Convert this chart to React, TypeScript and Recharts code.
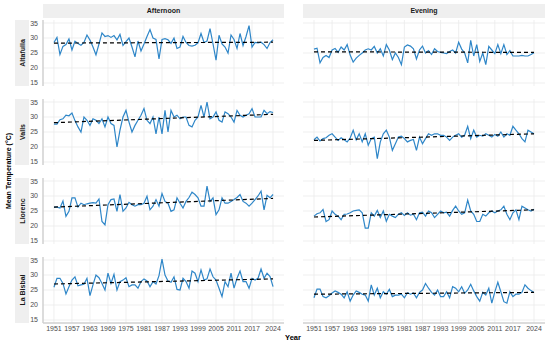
import React from 'react';
import { LineChart, Line, XAxis, YAxis, CartesianGrid } from 'recharts';

const YEARS = Array.from({ length: 74 }, (_, i) => 1951 + i);
const X_TICKS = [1951, 1957, 1963, 1969, 1975, 1981, 1987, 1993, 1999, 2005, 2011, 2017, 2024];
const Y_TICKS = [15, 20, 25, 30, 35];
const STATIONS = ['Altafulla', 'Valls', 'Llorenc', 'La Bisbal'];
const PERIODS = ['Afternoon', 'Evening'];

const altafullaAfternoon = [
  28.5, 30.2, 24.5, 27.2, 27.8, 29.7, 26.0, 28.9, 28.2, 27.6,
  28.5, 31.0, 29.3, 27.0, 24.4, 28.0, 31.7, 30.5, 30.8, 30.2,
  30.8, 29.4, 31.2, 27.5, 28.8, 30.0, 27.0, 23.7, 29.0, 25.7,
  28.0, 30.5, 32.8, 30.0, 29.5, 23.0, 29.5, 29.8, 29.4, 28.2,
  30.0, 26.5, 27.0, 30.5, 28.5, 27.5, 27.3, 27.6, 28.4, 31.5,
  28.5, 29.0, 33.1, 28.0, 22.6, 30.9, 28.0, 27.0, 25.0, 31.0,
  29.5, 26.5, 31.5, 27.5, 30.5, 34.1, 27.0, 28.5, 28.4, 28.6,
  27.8, 26.5, 28.5, 29.4,
];
const altafullaEvening = [
  26.3, 26.6, 21.7, 23.5, 24.2, 23.5, 26.0, 26.5, 25.2, 27.0,
  26.0, 27.8, 24.3, 22.0, 23.3, 24.2, 25.0, 26.0, 26.4, 26.0,
  27.2, 25.0, 26.4, 24.0, 27.8, 26.0, 22.8, 25.0, 23.5, 21.1,
  27.0, 27.7, 27.3, 26.4, 23.0, 26.0, 27.3, 25.0, 25.8, 24.5,
  26.4, 25.5, 25.2, 25.0, 24.8, 25.5, 26.0, 25.0, 28.6, 26.3,
  25.0, 21.7, 29.2, 24.0, 27.8, 22.2, 25.0, 21.1, 27.2, 26.0,
  24.8, 27.8, 24.8, 27.8, 24.5, 25.8, 24.0, 24.0, 24.0, 24.2,
  24.0, 24.0, 24.5, 25.1,
];
const vallsAfternoon = [
  27.6, 27.6, 29.1, 29.4, 30.6, 30.4, 31.3, 28.8, 26.7, 25.0,
  30.0, 28.9, 27.2, 29.4, 28.9, 27.8, 29.4, 26.7, 30.0, 27.8,
  27.2, 20.0, 25.6, 30.0, 32.2, 28.3, 25.0, 27.2, 28.9, 30.6,
  32.8, 28.9, 27.8, 30.0, 24.4, 30.0, 24.4, 32.2, 25.0, 32.2,
  30.0, 30.6, 29.4, 30.0, 30.0, 27.2, 26.7, 28.9, 30.0, 33.9,
  30.0, 35.0, 29.4, 30.0, 31.7, 28.9, 28.3, 31.7, 31.1, 30.0,
  28.3, 32.2, 30.6, 30.0, 30.6, 31.1, 32.8, 30.0, 30.0, 30.0,
  32.2, 31.1, 31.8, 31.5,
];
const vallsEvening = [
  22.4, 23.3, 22.0, 22.8, 23.1, 23.9, 24.4, 23.3, 22.2, 23.1,
  22.4, 21.7, 23.0, 25.6, 22.4, 24.4, 21.7, 24.4, 20.6, 22.8,
  23.3, 16.1, 21.7, 24.4, 25.6, 23.3, 18.9, 21.1, 23.3, 23.6,
  22.8, 21.7, 22.2, 22.5, 18.9, 23.3, 21.1, 22.8, 24.4, 23.9,
  24.4, 24.4, 23.9, 23.9, 23.3, 22.2, 23.3, 23.9, 24.4, 23.3,
  24.0, 26.9, 22.8, 25.6, 23.3, 23.9, 23.6, 24.4, 23.9, 23.3,
  24.2, 23.6, 25.0, 23.3, 24.4, 23.9, 26.9, 25.6, 24.4, 22.8,
  21.7, 25.6, 25.0, 24.4,
];
const llorencAfternoon = [
  26.3, 26.3, 26.0, 28.3, 23.2, 24.9, 29.4, 29.4, 26.3, 27.6,
  27.1, 27.4, 27.6, 27.8, 27.6, 29.0, 21.5, 20.4, 27.1, 28.8,
  29.0, 24.9, 30.5, 24.9, 26.0, 27.9, 27.1, 26.6, 27.1, 27.1,
  27.6, 29.9, 25.4, 26.6, 28.8, 26.6, 30.8, 28.2, 27.6, 24.9,
  25.4, 29.4, 27.6, 26.0, 28.2, 29.5, 31.3, 30.5, 29.4, 26.6,
  26.6, 33.3, 28.2, 29.4, 23.8, 25.4, 29.4, 27.6, 27.6, 28.2,
  28.8, 29.5, 30.5, 28.2, 27.6, 26.6, 27.6, 28.8, 30.0, 31.6,
  25.4, 30.2, 29.4, 30.5,
];
const llorencEvening = [
  23.3, 24.1, 24.4, 25.5, 21.5, 22.1, 25.0, 23.9, 23.3, 22.1,
  23.9, 24.0, 24.4, 25.0, 25.2, 25.4, 24.4, 19.3, 19.3, 24.4,
  23.3, 25.2, 22.8, 25.0, 21.6, 23.9, 23.3, 22.8, 23.9, 24.4,
  23.5, 24.4, 23.6, 23.9, 22.1, 24.4, 24.6, 23.3, 25.0, 24.4,
  22.8, 23.9, 25.0, 24.4, 24.6, 23.3, 25.2, 26.6, 25.0, 23.9,
  24.4, 28.6, 25.0, 23.9, 21.5, 21.5, 23.9, 23.3, 24.4, 25.0,
  24.4, 25.0, 25.4, 26.6, 23.9, 22.1, 24.4, 25.4, 22.1, 26.6,
  26.0, 25.4, 25.0, 25.6,
];
const laBisbalAfternoon = [
  25.9, 28.9, 28.9, 27.2, 23.7, 26.1, 28.3, 29.4, 26.4, 26.7,
  26.9, 28.9, 23.1, 26.7, 30.0, 29.1, 27.2, 25.0, 30.6, 27.2,
  30.2, 25.0, 27.8, 28.3, 29.1, 26.1, 26.7, 26.7, 25.6, 27.8,
  28.7, 28.0, 26.1, 27.8, 27.0, 29.8, 35.3, 30.0, 28.0, 27.6,
  29.4, 25.2, 25.0, 28.9, 27.8, 25.6, 31.3, 30.6, 27.8, 31.7,
  28.3, 28.7, 32.0, 29.4, 28.3, 25.6, 22.8, 27.8, 26.1, 30.6,
  25.6, 28.9, 31.3, 27.8, 27.8, 25.6, 28.9, 28.3, 28.9, 32.0,
  28.9, 30.6, 29.5, 26.1,
];
const laBisbalEvening = [
  22.4, 25.3, 25.3, 22.8, 22.4, 23.1, 24.0, 24.7, 24.2, 23.6,
  22.4, 24.4, 21.3, 23.3, 24.7, 24.2, 23.6, 23.3, 21.3, 26.7,
  23.3, 25.6, 22.4, 24.4, 23.6, 25.2, 22.8, 23.3, 23.3, 23.6,
  22.4, 24.1, 23.6, 24.0, 22.4, 24.2, 25.0, 27.2, 25.6, 24.2,
  23.3, 25.0, 22.8, 22.8, 24.4, 22.4, 26.1, 25.6, 24.4, 26.1,
  23.9, 25.0, 26.9, 24.7, 22.8, 21.3, 24.2, 23.3, 25.6, 20.6,
  24.4, 27.6, 24.4, 21.1, 20.6, 24.4, 22.8, 23.6, 23.6, 24.2,
  26.7, 25.6, 24.8, 24.2,
];

// trend line values at 1951 and 2024
const altafullaAfternoonTrend = [28.3, 28.6];
const altafullaEveningTrend = [25.4, 25.2];
const vallsAfternoonTrend = [28.1, 30.9];
const vallsEveningTrend = [22.2, 24.4];
const llorencAfternoonTrend = [26.3, 29.2];
const llorencEveningTrend = [23.0, 25.4];
const laBisbalAfternoonTrend = [27.0, 28.7];
const laBisbalEveningTrend = [23.6, 24.2];

const SERIES = [
  [altafullaAfternoon, altafullaEvening],
  [vallsAfternoon, vallsEvening],
  [llorencAfternoon, llorencEvening],
  [laBisbalAfternoon, laBisbalEvening],
];
const TRENDS = [
  [altafullaAfternoonTrend, altafullaEveningTrend],
  [vallsAfternoonTrend, vallsEveningTrend],
  [llorencAfternoonTrend, llorencEveningTrend],
  [laBisbalAfternoonTrend, laBisbalEveningTrend],
];

// layout
const FONT = '"Liberation Sans", Arial, sans-serif';
const X_DOMAIN = [1947.35, 2027.65];
const Y_DOMAIN = [14, 36];
const COL_LEFT = [43, 303];
const COL_WIDTH = [241, 242];
const ROW_TOP = [20, 99, 178, 257];
const PANEL_H = 66;
const Y_AXIS_W = 15;
const X_AXIS_H = 12;
const STRIP_BG = '#efefef';
const AXIS_COLOR = '#d0d0d0';

function Panel({ values, trend, row, col }: { values: number[]; trend: number[]; row: number; col: number }) {
  const showX = row === STATIONS.length - 1;
  const showY = col === 0;
  const data = YEARS.map((year, i) => ({ year, temp: values[i] }));
  const trendData = [
    { year: YEARS[0], temp: trend[0] },
    { year: YEARS[YEARS.length - 1], temp: trend[1] },
  ];
  const yw = showY ? Y_AXIS_W : 0;
  const xh = showX ? X_AXIS_H : 0;
  const tickStyle = { fontSize: 7, fill: '#4d4d4d', fontFamily: FONT };

  const vGen = ({ offset }: any) =>
    X_TICKS.map(
      (t) => offset.left + ((t - X_DOMAIN[0]) / (X_DOMAIN[1] - X_DOMAIN[0])) * offset.width
    );
  const hGen = ({ offset }: any) =>
    Y_TICKS.map(
      (t) => offset.top + (1 - (t - Y_DOMAIN[0]) / (Y_DOMAIN[1] - Y_DOMAIN[0])) * offset.height
    );

  return (
    <div style={{ position: 'absolute', left: COL_LEFT[col] - yw, top: ROW_TOP[row] }}>
      <LineChart
        width={COL_WIDTH[col] + yw}
        height={PANEL_H + xh}
        data={data}
        margin={{ top: 0, right: 0, bottom: 0, left: 0 }}
      >
        <CartesianGrid
          stroke="#ebebeb"
          strokeWidth={0.8}
          verticalCoordinatesGenerator={vGen}
          horizontalCoordinatesGenerator={hGen}
        />
        <XAxis
          dataKey="year"
          type="number"
          domain={X_DOMAIN}
          ticks={X_TICKS}
          interval={0}
          allowDataOverflow
          height={xh}
          axisLine={showX ? { stroke: AXIS_COLOR, strokeWidth: 1.5 } : false}
          tickLine={false}
          tick={showX ? tickStyle : false}
          tickSize={2}
          tickMargin={1}
        />
        <YAxis
          type="number"
          domain={Y_DOMAIN}
          ticks={Y_TICKS}
          interval={0}
          allowDataOverflow
          width={yw}
          axisLine={showY ? { stroke: AXIS_COLOR, strokeWidth: 1.5 } : false}
          tickLine={false}
          tick={showY ? tickStyle : false}
          tickSize={3}
          tickMargin={2}
        />
        <Line
          type="linear"
          dataKey="temp"
          stroke="#2e86c8"
          strokeWidth={1.2}
          dot={false}
          isAnimationActive={false}
        />
        <Line
          data={trendData}
          type="linear"
          dataKey="temp"
          stroke="#000000"
          strokeWidth={1.2}
          strokeDasharray="4 3"
          dot={false}
          isAnimationActive={false}
        />
      </LineChart>
    </div>
  );
}

export default function App() {
  return (
    <div
      style={{
        position: 'absolute',
        left: 0,
        top: 0,
        width: 550,
        height: 345,
        background: '#ffffff',
        fontFamily: FONT,
        overflow: 'hidden',
      }}
    >
      {PERIODS.map((p, c) => (
        <div
          key={p}
          style={{
            position: 'absolute',
            left: COL_LEFT[c],
            top: 4,
            width: COL_WIDTH[c],
            height: 14,
            background: STRIP_BG,
            color: '#1a1a1a',
            fontWeight: 'bold',
            fontSize: 7,
            lineHeight: '14px',
            textAlign: 'center',
          }}
        >
          {p}
        </div>
      ))}
      {STATIONS.map((s, r) => (
        <div
          key={s}
          style={{
            position: 'absolute',
            left: 15,
            top: ROW_TOP[r],
            width: 14,
            height: PANEL_H,
            background: STRIP_BG,
          }}
        >
          <div
            style={{
              position: 'absolute',
              left: 7,
              top: PANEL_H / 2,
              transform: 'translate(-50%, -50%) rotate(-90deg)',
              whiteSpace: 'nowrap',
              fontWeight: 'bold',
              fontSize: 7,
              color: '#1a1a1a',
            }}
          >
            {s}
          </div>
        </div>
      ))}
      {SERIES.map((pair, r) =>
        pair.map((vals, c) => (
          <Panel key={`${r}-${c}`} values={vals} trend={TRENDS[r][c]} row={r} col={c} />
        ))
      )}
      <div
        style={{
          position: 'absolute',
          left: 8,
          top: 171,
          transform: 'translate(-50%, -50%) rotate(-90deg)',
          whiteSpace: 'nowrap',
          fontWeight: 'bold',
          fontSize: 7,
          color: '#000',
        }}
      >
        Mean Temperature (°C)
      </div>
      <div
        style={{
          position: 'absolute',
          left: 293,
          top: 337,
          transform: 'translate(-50%, -50%)',
          whiteSpace: 'nowrap',
          fontWeight: 'bold',
          fontSize: 7.5,
          color: '#000',
        }}
      >
        Year
      </div>
    </div>
  );
}
